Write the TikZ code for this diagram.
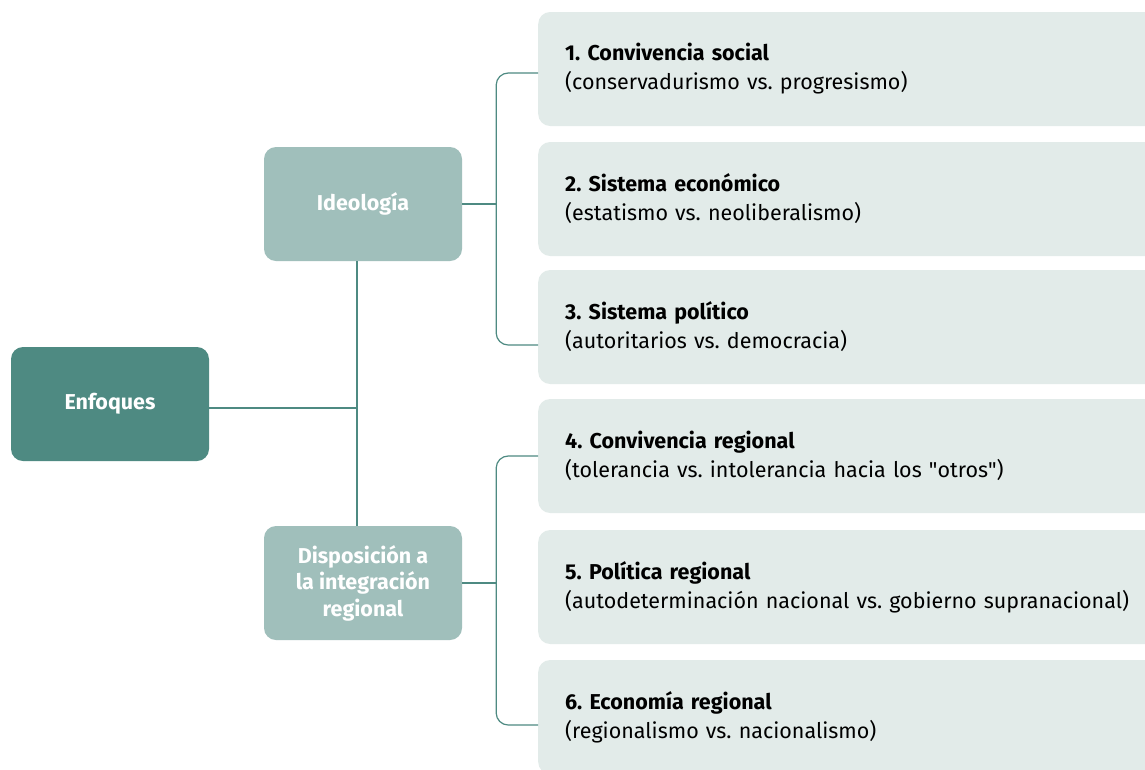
\documentclass[tikz,border=0pt]{standalone}
\usepackage{fontspec}
\setmainfont{Fira Sans}
\usepackage{tikz}
\usetikzlibrary{positioning}
\definecolor{kdark}{HTML}{4E8A82}
\definecolor{kmid}{HTML}{A0BFBB}
\definecolor{klight}{HTML}{E2EBE9}
\frenchspacing

\tikzset{
  rootbox/.style={fill=kdark, rounded corners=12pt, minimum width=198pt, minimum height=114pt,
    text=white, font=\fontsize{21.5}{26}\selectfont\bfseries, align=center},
  groupbox/.style={fill=kmid, rounded corners=12pt, minimum width=198pt, minimum height=114pt,
    text=white, font=\fontsize{21.5}{26.5}\selectfont\bfseries, align=center},
  itembox/.style={fill=klight, rounded corners=12pt, minimum height=114pt, text width=586pt,
    inner xsep=27pt, align=left, text=black, font=\fontsize{21.5}{29}\selectfont},
  link/.style={draw=kdark, line width=1.2pt}
}

\begin{document}
\begin{tikzpicture}[x=1pt, y=-1pt]
\useasboundingbox (0,0) rectangle (1145,769);
\clip (0,0) rectangle (1145,769);
\fill[white] (0,0) rectangle (1145,769);
% left column
\node[rootbox] (enf) at (110,404) {Enfoques};
\node[groupbox] (ideo) at (363,204) {Ideología};
\node[groupbox] (disp) at (363,583) {Disposición a\\la integración\\regional};
% right column
\node[itembox, anchor=west] (c1) at (538,69) {\textbf{1. Convivencia social}\\(conservadurismo vs. progresismo)};
\node[itembox, anchor=west] (c2) at (538,199) {\textbf{2. Sistema económico}\\(estatismo vs. neoliberalismo)};
\node[itembox, anchor=west] (c3) at (538,327) {\textbf{3. Sistema político}\\(autoritarios vs. democracia)};
\node[itembox, anchor=west] (c4) at (538,456) {\textbf{4. Convivencia regional}\\(tolerancia vs. intolerancia hacia los \textquotedbl otros\textquotedbl)};
\node[itembox, anchor=west] (c5) at (538,587) {\textbf{5. Política regional}\\(autodeterminación nacional vs. gobierno supranacional)};
\node[itembox, anchor=west] (c6) at (538,717) {\textbf{6. Economía regional}\\(regionalismo vs. nacionalismo)};
% connectors
\coordinate (ta) at ([xshift=-6pt]ideo.south);
\coordinate (tb) at ([xshift=-6pt]disp.north);
\coordinate (ea) at ([yshift=-4pt]enf.east);
\coordinate[right=34pt of ideo.east] (ja);
\coordinate[right=34pt of disp.east] (jb);
\draw[link] (ta) -- (tb);
\draw[link] (ea) -- (ea -| ta);
\draw[link] (ideo.east) -- (ja);
\draw[link] (disp.east) -- (jb);
\draw[link, rounded corners=12pt] ([yshift=-4pt]c1.west) -| (ja) |- ([yshift=-18pt]c3.west);
\draw[link, rounded corners=12pt] (c4.west) -| (jb) |- ([yshift=-8pt]c6.west);
\end{tikzpicture}
\end{document}
